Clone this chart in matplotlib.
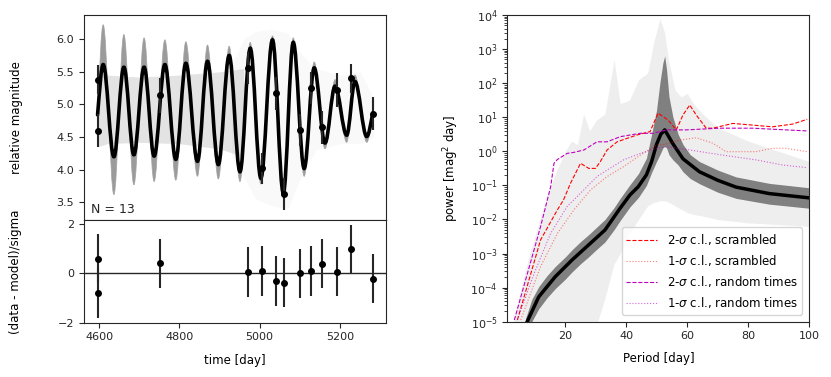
import numpy as np
import matplotlib
matplotlib.use("Agg")
import matplotlib.pyplot as plt
from matplotlib.path import Path
from matplotlib.patches import PathPatch
from matplotlib.ticker import LogLocator, NullFormatter

plt.rcParams['font.family'] = ['DejaVu Sans']
plt.rcParams['mathtext.fontset'] = 'dejavusans'
plt.rcParams['font.size'] = 8

# ---- light curve data ----
obs_t = [4596, 4598, 4752, 4972, 5005, 5041, 5060, 5100, 5129, 5156, 5193, 5227, 5282]
obs_mag = [4.60, 5.38, 5.14, 5.56, 4.02, 5.17, 3.63, 4.61, 5.25, 4.65, 5.22, 5.40, 4.86]
obs_err = [0.25, 0.22, 0.27, 0.24, 0.24, 0.25, 0.24, 0.24, 0.24, 0.25, 0.26, 0.22, 0.25]
resid = [-0.80, 0.60, 0.40, 0.05, 0.10, -0.31, -0.38, 0.0, 0.10, 0.39, 0.07, 0.97, -0.22]
resid_err = [1.0] * 13

# best-fit model: start, alternating peaks / troughs, end
model_t = [4596, 4610, 4636.7, 4661.6, 4686.5, 4712, 4737, 4763.8, 4791, 4816, 4845,
           4870, 4897, 4924, 4951, 4976.6, 5003, 5032, 5059, 5083.8, 5111, 5136, 5163,
           5188, 5217, 5237.6, 5267, 5282]
model_mag = [4.84, 5.61, 4.20, 5.57, 4.23, 5.57, 4.21, 5.61, 4.16, 5.63, 4.13, 5.66,
             4.08, 5.75, 3.97, 5.86, 3.87, 5.99, 3.64, 5.95, 4.02, 5.56, 4.41, 5.28,
             4.53, 5.35, 4.51, 4.87]
# extent of the dense posterior samples at the same extrema
samp_mag = [4.84, 6.22, 3.62, 6.07, 3.77, 6.02, 3.82, 5.99, 3.84, 5.96, 3.90, 5.91,
            3.86, 5.89, 3.82, 5.95, 3.78, 6.05, 3.58, 6.02, 3.90, 5.65, 4.32, 5.38,
            4.42, 5.45, 4.42, 4.90]
# loose (out of phase) samples
spag_t = [4597, 4620, 4700, 4800, 4900, 4960]
spag_lo = [4.35, 4.40, 4.42, 4.40, 4.32, 4.20]
spag_hi = [5.45, 5.45, 5.42, 5.45, 5.50, 5.55]
wide_t = [4930, 4960, 4990, 5030, 5070, 5100, 5140, 5200, 5250, 5285]
wide_lo = [4.2, 3.9, 3.55, 3.45, 3.40, 3.85, 4.30, 4.40, 4.40, 4.50]
wide_hi = [5.6, 6.0, 6.12, 6.15, 6.10, 5.80, 5.55, 5.45, 5.50, 5.10]

# ---- power spectrum (log10 power) ----
psd_x = [7.5, 11.3, 16.7, 22.2, 27.6, 33.0, 37.9, 41.2, 43.9, 46.6, 48.3, 49.9, 51.3,
         52.6, 53.8, 55.3, 58.6, 64.0, 70.0, 76.0, 86.9, 99.4]
psd_log = [-5.0, -4.27, -3.68, -3.19, -2.75, -2.31, -1.68, -1.28, -1.04, -0.69, -0.30,
           0.20, 0.50, 0.63, 0.45, 0.22, -0.22, -0.60, -0.85, -1.05, -1.24, -1.36]
band_x = [7, 9, 11.3, 14, 16.7, 20, 22.2, 25, 27.6, 30, 33, 36, 38, 41.2, 44, 46.6,
          48.3, 49.9, 51, 52, 52.6, 53.2, 54, 55.3, 57, 58.6, 61, 64, 70, 76, 86.9, 100]
band_hi = [-4.9, -4.35, -3.97, -3.65, -3.38, -3.1, -2.89, -2.65, -2.45, -2.25, -2.0,
           -1.65, -1.38, -0.98, -0.65, -0.2, 0.5, 1.2, 2.0, 2.6, 2.8, 2.4, 1.6, 1.0,
           0.5, 0.2, -0.1, -0.3, -0.55, -0.75, -0.94, -1.07]
band_lo = [-5.55, -5.0, -4.62, -4.3, -4.03, -3.75, -3.54, -3.3, -3.1, -2.9, -2.66,
           -2.3, -2.03, -1.63, -1.35, -1.0, -0.62, -0.3, -0.1, 0.1, 0.15, 0.1, -0.1,
           -0.25, -0.4, -0.6, -0.8, -0.95, -1.2, -1.38, -1.55, -1.67]
spread_x = [3, 5, 8, 11, 14, 17, 20, 22, 24, 26, 28, 30, 33, 36, 38, 41, 44, 47, 49, 51,
            52.5, 54, 56, 58, 60, 62, 65, 70, 80, 90, 100]
spread_hi = [-5, -4.2, -3.1, -2.2, -1.3, -0.6, 0.0, 0.3, 0.2, 1.1, 0.6, 0.9, 1.1, 2.7,
             1.4, 1.5, 2.1, 2.3, 3.2, 3.9, 3.5, 2.6, 1.8, 1.6, 1.7, 1.4, 1.1, 0.7, 0.3, 0.0, -0.3]
spread_lo = [-5.5, -5.5, -5.5, -5.5, -5.5, -5.5, -5.5, -5.5, -5.5, -5.5, -5.5, -5.2, -4.3,
             -3.3, -3.0, -2.4, -2.0, -1.6, -1.5, -1.45, -1.45, -1.5, -1.6, -1.7, -1.8,
             -1.85, -1.9, -2.0, -2.1, -2.15, -2.2]

scr2_x = [4.3, 11.9, 17.4, 19.4, 21.7, 25.0, 27.7, 29.9, 31.5, 33.7, 37.0, 40.2, 43.5,
          47.8, 50.4, 53.7, 56.4, 58.6, 60.8, 62.9, 66.2, 68.4, 74.9, 81.4, 87.9, 94.5, 99.3]
scr2_log = [-4.95, -2.6, -1.72, -1.43, -0.94, -0.35, -0.50, -0.50, -0.30, 0.04, 0.28,
            0.38, 0.48, 0.58, 1.12, 0.92, 0.63, 1.07, 1.36, 1.07, 0.68, 0.68, 0.82, 0.77,
            0.72, 0.80, 0.94]
scr1_x = [5.4, 11.9, 17.4, 22.8, 28.3, 33.7, 39.1, 44.6, 50.0, 52.1, 57.5, 62.9, 68.4,
          72.7, 77.1, 82.5, 87.9, 92.3, 99.3]
scr1_log = [-4.95, -3.38, -2.41, -1.72, -1.13, -0.74, -0.45, -0.11, 0.19, 0.19, 0.33,
            0.40, 0.24, -0.01, -0.01, -0.01, 0.09, 0.09, -0.01]
rnd2_x = [3.3, 7.6, 11.9, 15.2, 16.3, 17.4, 20.6, 22.8, 26.1, 30.4, 33.7, 38.0, 44.6,
          48.8, 53.2, 59.7, 70.5, 81.4, 92.3, 99.3]
rnd2_log = [-4.95, -3.58, -2.21, -1.04, -0.35, -0.24, -0.06, -0.03, 0.04, 0.28, 0.28,
            0.43, 0.53, 0.53, 0.63, 0.63, 0.68, 0.68, 0.63, 0.60]
rnd1_x = [4.3, 9.8, 15.2, 20.6, 26.1, 30.4, 33.7, 39.1, 44.6, 50.0, 53.2, 60.8, 71.6,
          82.5, 91.2, 99.3]
rnd1_log = [-4.95, -3.58, -2.41, -1.62, -1.13, -0.74, -0.55, -0.25, -0.06, 0.09, 0.14,
            0.04, -0.11, -0.25, -0.40, -0.48]


def smooth_path(ts, ys):
    # cubic Bezier through the extrema, flat tangents at interior nodes
    n = len(ts)
    slopes = [0.0] * n
    slopes[0] = 1.3 * (ys[1] - ys[0]) / (ts[1] - ts[0])
    slopes[-1] = 1.3 * (ys[-1] - ys[-2]) / (ts[-1] - ts[-2])
    a = 0.36
    verts = [(ts[0], ys[0])]
    codes = [Path.MOVETO]
    for i in range(n - 1):
        dt = ts[i + 1] - ts[i]
        verts += [(ts[i] + a * dt, ys[i] + slopes[i] * a * dt),
                  (ts[i + 1] - a * dt, ys[i + 1] - slopes[i + 1] * a * dt),
                  (ts[i + 1], ys[i + 1])]
        codes += [Path.CURVE4] * 3
    return verts, codes


def pw(vals):
    return 10.0 ** np.array(vals)


fig = plt.figure(figsize=(8.31, 3.77), dpi=100)
ax1 = fig.add_axes([0.101, 0.4164, 0.364, 0.5438])
ax2 = fig.add_axes([0.101, 0.144, 0.364, 0.2724], sharex=ax1)
ax3 = fig.add_axes([0.6105, 0.1467, 0.3634, 0.8133])

ink = '#262626'

# light curve panel
ax1.fill_between(spag_t, spag_lo, spag_hi, color='#b0b0b0', alpha=0.35, lw=0)
ax1.fill_between(wide_t, wide_lo, wide_hi, color='#b0b0b0', alpha=0.07, lw=0)
mv, mc = smooth_path(model_t, model_mag)
sv, sc = smooth_path(model_t, samp_mag)
back = mv[::-1]
patch_verts = sv + [back[0]] + back[1:]
patch_codes = sc + [Path.LINETO] + mc[1:]
ax1.add_patch(PathPatch(Path(patch_verts, patch_codes), facecolor='#8a8a8a',
                        edgecolor='#a0a0a0', lw=0.6, alpha=0.85))
ax1.add_patch(PathPatch(Path(mv, mc), facecolor='none', edgecolor='k', lw=2.6,
                        capstyle='round'))
ax1.errorbar(obs_t, obs_mag, obs_err, fmt='o', color='k', ms=4, ecolor=ink, elinewidth=1.5,
             zorder=5)
ax1.text(0.025, 0.035, 'N = 13', transform=ax1.transAxes, fontsize=9, color=ink)
ax1.set_ylim(3.23, 6.37)
ax1.set_yticks([3.5, 4.0, 4.5, 5.0, 5.5, 6.0])
ax1.set_ylabel('relative magnitude', fontsize=8.5)
ax1.yaxis.set_label_coords(-0.203, 0.5)
ax1.tick_params(axis='x', length=0, labelbottom=False)

# residuals panel
ax2.axhline(0, color=ink, lw=1)
ax2.errorbar(obs_t, resid, resid_err, fmt='o', color='k', ms=4, ecolor=ink, elinewidth=1.5)
ax2.set_xlim(4562, 5316)
ax2.set_ylim(-2, 2.16)
ax2.set_yticks([-2, 0, 2])
ax2.set_xticks([4600, 4800, 5000, 5200])
ax2.set_xlabel('time [day]', fontsize=8.5)
ax2.xaxis.set_label_coords(0.5, -0.3)
ax2.set_ylabel('(data - model)/sigma', fontsize=8.5)
ax2.yaxis.set_label_coords(-0.206, 0.5)

# power spectrum panel
ax3.fill_between(spread_x, pw(spread_lo), pw(spread_hi), color='#d0d0d0', alpha=0.35, lw=0)
ax3.fill_between(band_x, pw(band_lo), pw(band_hi), color='#808080', lw=0)
ax3.plot(psd_x, pw(psd_log), color='k', lw=2.5)
ax3.plot(scr2_x, pw(scr2_log), color='r', ls='--', lw=0.8,
         label=r'2-$\sigma$ c.l., scrambled')
ax3.plot(scr1_x, pw(scr1_log), color='r', ls=':', lw=0.8, alpha=0.5,
         label=r'1-$\sigma$ c.l., scrambled')
ax3.plot(rnd2_x, pw(rnd2_log), color='m', ls='--', lw=0.8,
         label=r'2-$\sigma$ c.l., random times')
ax3.plot(rnd1_x, pw(rnd1_log), color='m', ls=':', lw=0.8, alpha=0.6,
         label=r'1-$\sigma$ c.l., random times')
ax3.set_yscale('log')
ax3.set_xlim(1, 100)
ax3.set_ylim(1e-5, 1e4)
ax3.yaxis.set_major_locator(LogLocator(base=10, numticks=20))
ax3.yaxis.set_minor_locator(LogLocator(base=10, subs=np.arange(2, 10), numticks=20))
ax3.yaxis.set_minor_formatter(NullFormatter())
ax3.set_xticks([20, 40, 60, 80, 100])
ax3.set_xlabel('Period [day]', fontsize=8.5)
ax3.xaxis.set_label_coords(0.5, -0.1)
ax3.set_ylabel(r'power [mag$^2$ day]', fontsize=8.5)
ax3.yaxis.set_label_coords(-0.153, 0.5)
ax3.legend(loc='lower right', fontsize=8.5, handlelength=2.6, borderaxespad=0.6,
           framealpha=0.8)

for ax in (ax1, ax2, ax3):
    for s in ax.spines.values():
        s.set_color(ink)
    ax.tick_params(which='both', colors=ink, labelcolor=ink)

fig.savefig('out.png', dpi=100)
